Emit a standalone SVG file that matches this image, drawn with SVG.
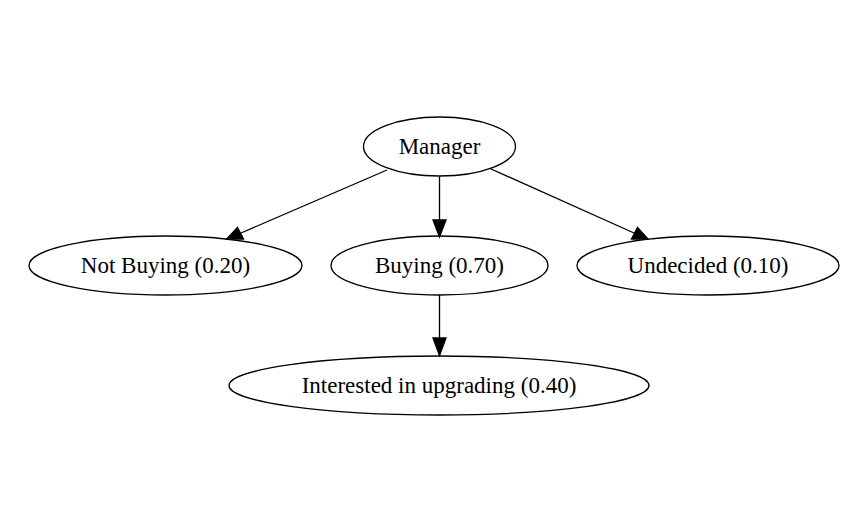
<svg xmlns="http://www.w3.org/2000/svg" width="864" height="528" viewBox="0 0 864 528">
<style>
.n ellipse{fill:none;stroke:#000;stroke-width:1.33}
.n text{font-family:"Liberation Serif","Times New Roman",serif;font-size:23px;text-anchor:middle;fill:#000}
.e line{stroke:#000;stroke-width:1.33}
.e polygon{fill:#000;stroke:#000;stroke-width:1.33}
</style>
<rect width="864" height="528" fill="#fff"/>
<g id="edges" class="e">
<line x1="387" y1="170" x2="241" y2="233"/>
<polygon points="226.7,239 237.5,227.5 243.5,239"/>
<line x1="439.5" y1="176.5" x2="439.5" y2="221"/>
<polygon points="439.5,237 433,220 446,220"/>
<line x1="490" y1="168.5" x2="634" y2="233"/>
<polygon points="648,239 631.5,239 637.5,227.5"/>
<line x1="439.5" y1="295" x2="439.5" y2="339"/>
<polygon points="439.5,355.5 433,338 446,338"/>
</g>
<g id="manager" class="n"><ellipse cx="439.5" cy="146.5" rx="76" ry="29.5"/><text x="439.5" y="154">Manager</text></g>
<g id="not_buying" class="n"><ellipse cx="165.5" cy="265.5" rx="136.5" ry="29.5"/><text x="165.5" y="273">Not Buying (0.20)</text></g>
<g id="buying" class="n"><ellipse cx="439.5" cy="265.5" rx="108.5" ry="29.5"/><text x="439.5" y="273">Buying (0.70)</text></g>
<g id="undecided" class="n"><ellipse cx="708" cy="265.5" rx="131" ry="29.5"/><text x="708" y="273">Undecided (0.10)</text></g>
<g id="interested" class="n"><ellipse cx="439" cy="385.5" rx="210" ry="29.5"/><text x="439" y="392.5">Interested in upgrading (0.40)</text></g>
</svg>
